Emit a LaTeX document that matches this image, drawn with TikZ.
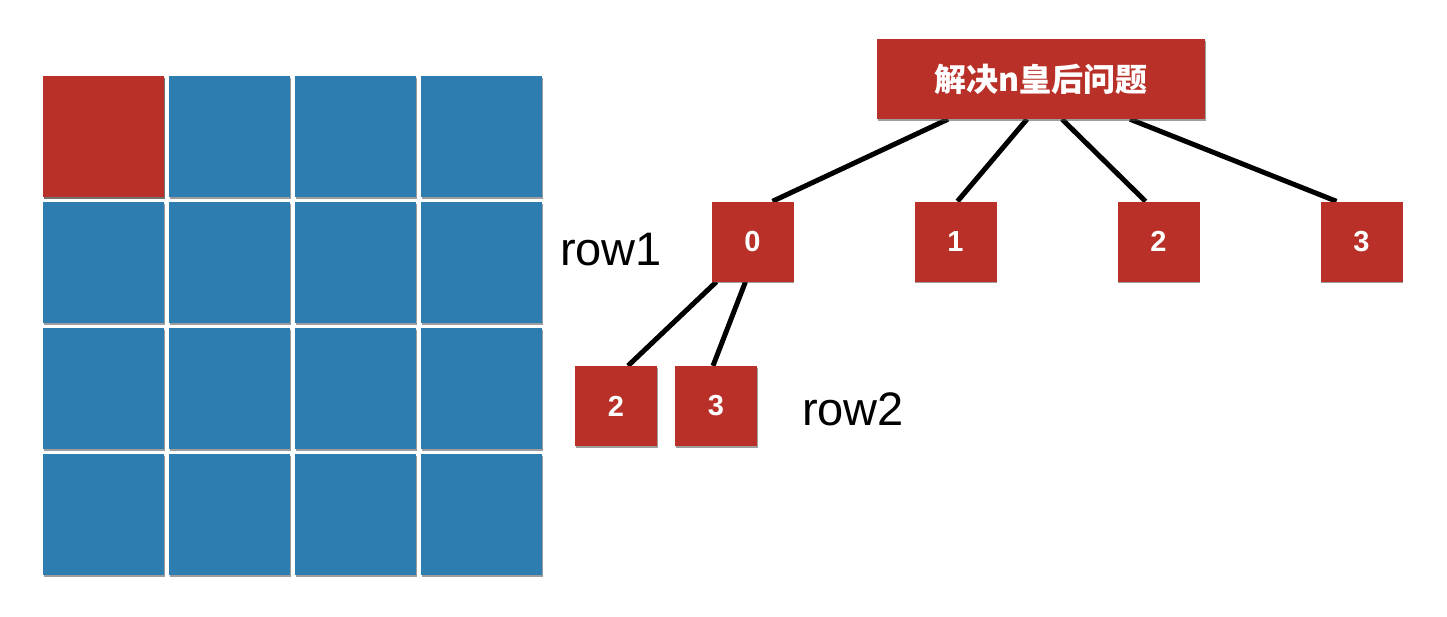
\documentclass[tikz,border=0pt]{standalone}
\usepackage{fontspec}
\setmainfont{Liberation Sans}
\newfontfamily\cjk{Noto Sans CJK SC}
\usetikzlibrary{calc,shadows,backgrounds}
\definecolor{qred}{HTML}{B93028}
\definecolor{qblue}{HTML}{2E7DB0}
\tikzset{
  cell/.style={rectangle, inner sep=0pt, minimum width=121pt, minimum height=121pt,
    fill=qblue, drop shadow={shadow xshift=0.6pt, shadow yshift=-1.6pt, opacity=0.55, fill=black!70}},
  redcell/.style={cell, fill=qred},
  box/.style={rectangle, inner sep=0pt, minimum width=82pt, minimum height=80pt,
    fill=qred, text=white, font=\fontsize{29}{31}\selectfont\bfseries,
    drop shadow={shadow xshift=0.6pt, shadow yshift=-1.6pt, opacity=0.55, fill=black!70}},
  titlebox/.style={box, minimum width=328pt, minimum height=80pt,
    font=\cjk\fontsize{32}{34}\selectfont\bfseries},
  lab/.style={font=\fontsize{47}{50}\selectfont, text=black, inner sep=0pt},
  edge/.style={line width=5pt, black}
}
\begin{document}
\begin{tikzpicture}[x=1pt,y=-1pt]
\useasboundingbox (0,0) rectangle (1447,616);
% grid
\foreach \r/\yy in {1/136.5,2/262.5,3/388.5,4/514.5}{
  \foreach \c/\xx in {1/103.5,2/229.5,3/355.5,4/481.5}{
    \node[cell] (g\r\c) at (\xx,\yy) {};
  }
}
\node[redcell] (g11r) at (103.5,136.5) {};
% tree
\node[titlebox] (t) at (1041,79) {解决n皇后问题};
\node[box] (a0) at (752.5,241.5) {0};
\node[box] (a1) at (955.5,241.5) {1};
\node[box] (a2) at (1158.5,241.5) {2};
\node[box] (a3) at (1361.5,241.5) {3};
\node[box] (b2) at (616,406) {2};
\node[box] (b3) at (716,406) {3};
\node[lab, anchor=west] (r1) at (560,250) {row1};
\node[lab, anchor=west] (r2) at (802,409) {row2};
\begin{pgfonlayer}{background}
\draw[edge] ($(t.south)+(-93,0)$) -- ($(a0.north)+(20,0)$);
\draw[edge] ($(t.south)+(-14,0)$) -- ($(a1.north)+(2,0)$);
\draw[edge] ($(t.south)+(21,0)$) -- ($(a2.north)+(-13,0)$);
\draw[edge] ($(t.south)+(89,0)$) -- ($(a3.north)+(-25,0)$);
\draw[edge] ($(a0.south)+(-36,0)$) -- ($(b2.north)+(12,0)$);
\draw[edge] ($(a0.south)+(-7,0)$) -- ($(b3.north)+(-3,0)$);
\end{pgfonlayer}
\end{tikzpicture}
\end{document}
